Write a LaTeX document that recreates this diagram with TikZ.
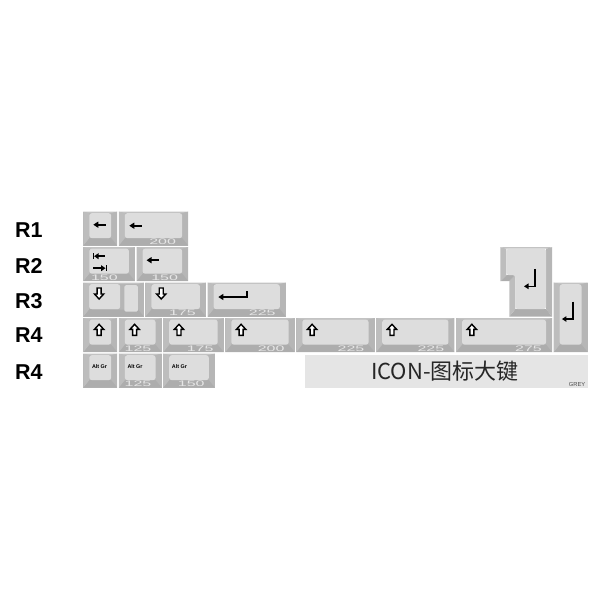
\documentclass[tikz,border=0pt]{standalone}
\usepackage{fontspec}
\setmainfont{Liberation Sans}
\newfontfamily\cjkfont{Noto Sans CJK SC}
\usetikzlibrary{calc}
\definecolor{skt}{HTML}{C3C3C3}
\definecolor{skl}{HTML}{BDBDBD}
\definecolor{skr}{HTML}{B6B6B6}
\definecolor{skb}{HTML}{ADADAD}
\definecolor{ktop}{HTML}{DDDDDD}
\definecolor{numc}{HTML}{E6E6E6}
\definecolor{panel}{HTML}{E5E5E5}
\tikzset{
  keybase/.style={inner sep=0pt, outer sep=0pt, fill=skr},
  keytopst/.style={fill=ktop, rounded corners=2.5pt},
  numlab/.style={inner sep=0pt, text=numc, font=\fontsize{8}{8}\selectfont},
  rowlab/.style={inner sep=0pt, font=\bfseries\fontsize{21.5}{21.5}\selectfont, anchor=west},
  altgr/.style={inner sep=0pt, font=\bfseries\fontsize{5.4}{5.4}\selectfont, anchor=west},
  lgd/.style={line width=2pt, black},
  thinlgd/.style={line width=1.5pt, black},
  hollow/.style={draw=black, fill=white, line width=1.4pt, line join=miter},
  leftarr/.pic={\draw[lgd] (3,0) -- (12.5,0); \fill (0,0) -- (5,-3.2) -- (5,3.2) -- cycle;},
  uparr/.pic={\draw[hollow] (0,-5.5) -- (4.6,-0.5) -- (2,-0.5) -- (2,5.5) -- (-2,5.5) -- (-2,-0.5) -- (-4.6,-0.5) -- cycle;},
  downarr/.pic={\draw[hollow] (0,5.5) -- (4.6,0.5) -- (2,0.5) -- (2,-5.5) -- (-2,-5.5) -- (-2,0.5) -- (-4.6,0.5) -- cycle;},
  tabicon/.pic={
    \draw[line width=1.5pt] (0,-3.2) -- (0,3.2);
    \draw[lgd] (4,0) -- (12,0); \fill (0.8,0) -- (5.2,-3) -- (5.2,3) -- cycle;
    \draw[lgd] (0,12) -- (9,12); \fill (12.2,12) -- (7.8,9) -- (7.8,15) -- cycle;
    \draw[line width=1.5pt] (13,8.8) -- (13,15.2);},
  retlong/.pic={\draw[lgd] (4,0) -- (29,0) -- (29,-6); \fill (0,0) -- (5,-3.2) -- (5,3.2) -- cycle;},
  enterarr/.pic={\draw[thinlgd] (0,0) -- (0,17.5) -- (-7,17.5); \fill (-11,17.5) -- (-6.5,14.6) -- (-6.5,20.4) -- cycle;},
}
\newcommand{\kcap}[5]{%
  \pgfmathsetmacro{\kw}{#4*35.5-1.6}%
  \node[keybase, minimum width=\kw pt, minimum height=#5 pt, anchor=north west] (#1) at (#2,#3) {};
  \begin{scope}[shift={(#2,#3)}]
    \fill[skt] (0,0) -- (\kw,0) -- (\kw-6,1.5) -- (6,1.5) -- cycle;
    \fill[skr] (\kw,0) -- (\kw,#5) -- (\kw-6,#5-7.5) -- (\kw-6,1.5) -- cycle;
    \fill[skb] (\kw,#5) -- (0,#5) -- (6,#5-7.5) -- (\kw-6,#5-7.5) -- cycle;
    \fill[skl] (0,#5) -- (0,0) -- (6,1.5) -- (6,#5-7.5) -- cycle;
    \fill[keytopst] (6,1.5) rectangle (\kw-6,#5-7.5);
  \end{scope}}
\newcommand{\knum}[4]{%
  \node[numlab, anchor=east] (#1) at ($(#2.south east)+(-#4,-3.8)$) {\scalebox{2}[1]{#3}};}
\begin{document}
\begin{tikzpicture}[x=1pt,y=-1pt]
\useasboundingbox (0,0) rectangle (600,600);
% row labels
\node[rowlab] (r1) at (15,230) {R1};
\node[rowlab] (r2) at (15,265.5) {R2};
\node[rowlab] (r3) at (15,300.7) {R3};
\node[rowlab] (r4) at (15,335.5) {R4};
\node[rowlab] (r5) at (15,372.5) {R4};
% row 1
\kcap{k11}{83.3}{211.7}{1}{33.9}
\kcap{k12}{118.8}{211.7}{2}{33.9}
% row 2
\kcap{k21}{83.3}{247.2}{1.5}{33.9}
\kcap{k22}{136.55}{247.2}{1.5}{33.9}
% row 3
\kcap{k31}{83.3}{282.7}{1.75}{33.9}
\begin{scope}[shift={(k31.north west)}]
  \fill[skr] (35,1.5) rectangle (56,26.4);
  \fill[keytopst] (6,1.5) rectangle (36.9,26.4);
  \fill[ktop, rounded corners=1.5pt] (41,2.5) rectangle (54.5,29);
\end{scope}
\kcap{k32}{145.425}{282.7}{1.75}{33.9}
\kcap{k33}{207.55}{282.7}{2.25}{33.9}
\kcap{kve}{553.675}{282.7}{1}{69.4}
% ISO enter
\coordinate (kiso) at (500.425,247.2);
\begin{scope}[shift={(kiso)}]
  \fill[skt] (0,0) -- (51.65,0) -- (45.65,1.5) -- (6,1.5) -- cycle;
  \fill[skr] (51.65,0) -- (51.65,69.4) -- (45.65,61.9) -- (45.65,1.5) -- cycle;
  \fill[skb] (51.65,69.4) -- (8.875,69.4) -- (14.875,61.9) -- (45.65,61.9) -- cycle;
  \fill[skl] (8.875,69.4) -- (8.875,33.9) -- (14.875,27.9) -- (14.875,61.9) -- cycle;
  \fill[skb] (8.875,33.9) -- (0,33.9) -- (6,27.9) -- (14.875,27.9) -- cycle;
  \fill[skl] (0,33.9) -- (0,0) -- (6,1.5) -- (6,27.9) -- cycle;
  \fill[keytopst] (6,1.5) -- (45.65,1.5) -- (45.65,61.9) -- (14.875,61.9) -- (14.875,27.9) -- (6,27.9) -- cycle;
\end{scope}
% row 4
\kcap{k41}{83.3}{318.2}{1}{33.9}
\kcap{k42}{118.8}{318.2}{1.25}{33.9}
\kcap{k43}{163.175}{318.2}{1.75}{33.9}
\kcap{k44}{225.3}{318.2}{2}{33.9}
\kcap{k45}{296.3}{318.2}{2.25}{33.9}
\kcap{k46}{376.175}{318.2}{2.25}{33.9}
\kcap{k47}{456.05}{318.2}{2.75}{33.9}
% row 5
\kcap{k51}{83.3}{353.7}{1}{33.9}
\kcap{k52}{118.8}{353.7}{1.25}{33.9}
\kcap{k53}{163.175}{353.7}{1.5}{33.9}
% size numbers
\knum{n12}{k12}{200}{12}
\knum{n21}{k21}{150}{17}
\knum{n22}{k22}{150}{10}
\knum{n32}{k32}{175}{10}
\knum{n33}{k33}{225}{10}
\knum{n42}{k42}{125}{10}
\knum{n43}{k43}{175}{10}
\knum{n44}{k44}{200}{10}
\knum{n45}{k45}{225}{10}
\knum{n46}{k46}{225}{10}
\knum{n47}{k47}{275}{10}
\knum{n52}{k52}{125}{10}
\knum{n53}{k53}{150}{10}
% legends
\pic (l11) at ($(k11.north west)+(10,13)$) {leftarr};
\pic (l12) at ($(k12.north west)+(10.5,14)$) {leftarr};
\pic (l21) at ($(k21.north west)+(10,9)$) {tabicon};
\pic (l22) at ($(k22.north west)+(10,13)$) {leftarr};
\pic (l31) at ($(k31.north west)+(15.8,10.8)$) {downarr};
\pic (l32) at ($(k32.north west)+(15.8,10.8)$) {downarr};
\pic (l33) at ($(k33.north west)+(10.8,14.3)$) {retlong};
\pic (liso) at ($(kiso)+(34.6,21.6)$) {enterarr};
\pic (lve) at ($(kve.north west)+(19.3,18.8)$) {enterarr};
\pic (l41) at ($(k41.north west)+(15.8,11.6)$) {uparr};
\pic (l42) at ($(k42.north west)+(15.8,11.6)$) {uparr};
\pic (l43) at ($(k43.north west)+(15.8,11.6)$) {uparr};
\pic (l44) at ($(k44.north west)+(15.8,11.6)$) {uparr};
\pic (l45) at ($(k45.north west)+(15.8,11.6)$) {uparr};
\pic (l46) at ($(k46.north west)+(15.8,11.6)$) {uparr};
\pic (l47) at ($(k47.north west)+(15.8,11.6)$) {uparr};
\node[altgr] (a51) at ($(k51.north west)+(8.5,13.3)$) {Alt Gr};
\node[altgr] (a52) at ($(k52.north west)+(8.5,13.3)$) {Alt Gr};
\node[altgr] (a53) at ($(k53.north west)+(8.5,13.3)$) {Alt Gr};
% icon panel
\node[fill=panel, inner sep=0pt, minimum width=282.5pt, minimum height=32.6pt, anchor=north west] (panel) at (305,355) {};
\node[font=\cjkfont\fontsize{22}{22}\selectfont, anchor=base, inner sep=0pt, text=black!85] (icon) at (445,379.5) {ICON-图标大键};
\node[font=\fontsize{5.8}{5.8}\selectfont, anchor=base east, inner sep=0pt, text=black!70] (grey) at (585.5,386.3) {GREY};
\end{tikzpicture}
\end{document}
